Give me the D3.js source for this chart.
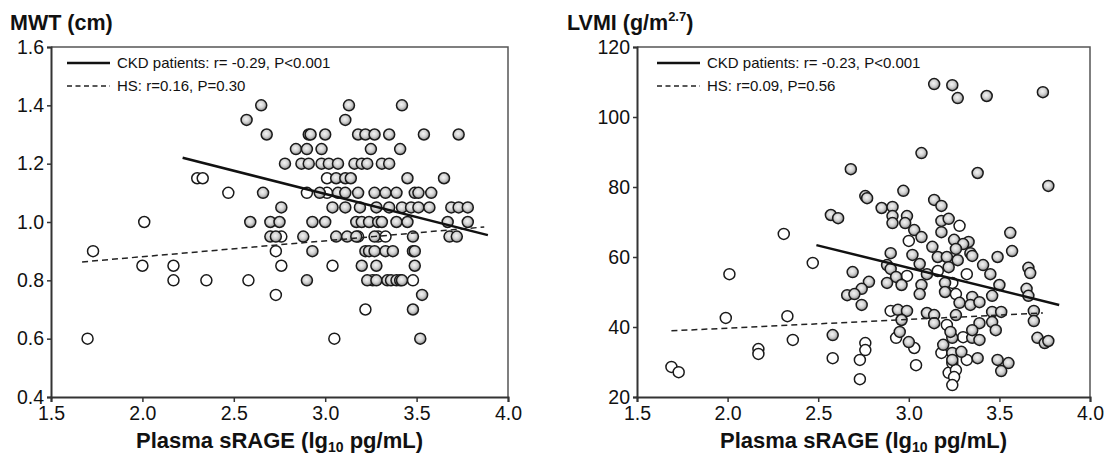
<!DOCTYPE html>
<html>
<head>
<meta charset="utf-8">
<script src="https://cdn.jsdelivr.net/npm/d3@7"></script>
<style>
body { margin: 0; background: #fff; }
svg { display: block; font-family: "Liberation Sans", Arial, sans-serif; }
</style>
</head>
<body>
<svg id="chart" width="1109" height="455"></svg>
<script>
// shared x axis (lg10 sRAGE)
const xTicks = [1.5, 2.0, 2.5, 3.0, 3.5, 4.0];
const mwtTicks = [0.4, 0.6, 0.8, 1.0, 1.2, 1.4, 1.6];
const lvmiTicks = [20, 40, 60, 80, 100, 120];

// MWT panel, CKD patients (grey dots)
const mwtCkdX = [
	2.65, 3.13, 3.42,
	2.57, 3.11,
	2.68, 2.91, 2.92, 3.00, 3.18, 3.22, 3.27, 3.35, 3.54, 3.73,
	2.84, 2.90, 2.98, 3.25, 3.41,
	2.78, 2.87, 2.91, 2.98, 3.02, 3.07, 3.16, 3.20, 3.23, 3.31, 3.35,
	3.06, 3.11, 3.14, 3.45, 3.65,
	2.66, 2.97, 3.07, 3.11, 3.18, 3.27, 3.33, 3.39, 3.49, 3.51, 3.58,
	2.76, 3.04, 3.11, 3.19, 3.28, 3.35, 3.42, 3.47, 3.51, 3.57, 3.69, 3.73, 3.78,
	2.59, 2.70, 2.75, 2.93, 3.00, 3.17, 3.20, 3.24, 3.29, 3.31, 3.39, 3.45, 3.67, 3.78,
	2.70, 2.73, 2.88, 3.06, 3.12, 3.17, 3.27, 3.48, 3.68, 3.72,
	2.93, 3.22, 3.24, 3.27, 3.33, 3.37, 3.48, 3.49,
	3.20, 3.28, 3.49,
	2.90, 3.23, 3.28, 3.34, 3.36, 3.39, 3.41, 3.42,
	3.53, 3.48, 3.52
];
const mwtCkdY = [
	1.40, 1.40, 1.40,
	1.35, 1.35,
	1.30, 1.30, 1.30, 1.30, 1.30, 1.30, 1.30, 1.30, 1.30, 1.30,
	1.25, 1.25, 1.25, 1.25, 1.25,
	1.20, 1.20, 1.20, 1.20, 1.20, 1.20, 1.20, 1.20, 1.20, 1.20, 1.20,
	1.15, 1.15, 1.15, 1.15, 1.15,
	1.10, 1.10, 1.10, 1.10, 1.10, 1.10, 1.10, 1.10, 1.10, 1.10, 1.10,
	1.05, 1.05, 1.05, 1.05, 1.05, 1.05, 1.05, 1.05, 1.05, 1.05, 1.05, 1.05, 1.05,
	1.00, 1.00, 1.00, 1.00, 1.00, 1.00, 1.00, 1.00, 1.00, 1.00, 1.00, 1.00, 1.00, 1.00,
	0.95, 0.95, 0.95, 0.95, 0.95, 0.95, 0.95, 0.95, 0.95, 0.95,
	0.90, 0.90, 0.90, 0.90, 0.90, 0.90, 0.90, 0.90,
	0.85, 0.85, 0.85,
	0.80, 0.80, 0.80, 0.80, 0.80, 0.80, 0.80, 0.80,
	0.75, 0.70, 0.60
];

// MWT panel, healthy subjects (open dots)
const mwtHsX = [1.70, 1.73, 2.00, 2.01, 2.17, 2.17, 2.30, 2.33, 2.35, 2.47, 2.58, 2.73, 2.73,
	2.76, 2.76, 2.90, 3.01, 3.01, 3.04, 3.05, 3.22, 3.26, 3.48, 3.29, 3.33, 3.18];
const mwtHsY = [0.60, 0.90, 0.85, 1.00, 0.85, 0.80, 1.15, 1.15, 0.80, 1.10, 0.80, 0.75, 0.90,
	0.85, 0.95, 1.10, 1.10, 1.15, 0.85, 0.60, 0.70, 0.80, 0.80, 0.95, 0.95, 0.95];

// regression lines (end points)
const mwtCkdFitX = [2.22, 3.89];
const mwtCkdFitY = [1.22, 0.955];
const mwtHsFitX = [1.67, 3.87];
const mwtHsFitY = [0.863, 0.983];

// LVMI panel, CKD patients
const lvmiCkdX = [
	3.14, 3.24, 3.27, 3.43, 3.74, 3.07,
	2.68, 3.38, 3.77, 2.76, 2.77, 2.97,
	3.14, 3.18, 2.85, 2.91, 2.91, 2.57,
	2.61, 2.99, 2.91, 2.98, 3.18, 3.22,
	3.03, 3.18, 3.56, 3.07, 3.25, 3.33,
	3.30, 3.13, 3.26, 3.34, 3.57, 2.90,
	3.02, 3.16, 3.21, 3.27, 3.35, 3.49,
	3.06, 2.88, 2.90, 3.22, 3.41, 3.66,
	3.67, 2.69, 2.93, 3.10, 3.45, 2.78,
	2.88, 2.96, 3.07, 3.20, 3.50, 3.65,
	2.74, 2.66, 2.70, 3.06, 3.20, 3.35,
	3.46, 2.74, 2.94, 2.99, 2.96, 3.10,
	3.14, 3.14, 3.26, 3.28, 3.34, 3.39,
	3.46, 3.51, 3.39, 3.46, 3.48, 3.69,
	3.69, 3.66, 2.95, 3.00, 3.19, 3.24,
	3.35, 3.39, 3.24, 3.29, 3.38, 3.24,
	3.49, 3.55, 3.51, 3.71, 3.75, 3.77,
	2.58, 3.23, 3.35
];
const lvmiCkdY = [
	109.4, 109.1, 105.4, 106.0, 107.1, 89.7,
	85.1, 84.0, 80.3, 77.4, 76.8, 78.9,
	76.3, 74.6, 74.0, 74.3, 71.7, 72.0,
	71.1, 71.7, 69.7, 69.7, 70.3, 70.9,
	67.7, 67.1, 66.9, 65.7, 64.9, 64.3,
	63.7, 62.9, 62.3, 61.1, 61.7, 61.1,
	60.6, 60.0, 60.0, 59.1, 60.3, 60.0,
	58.0, 57.7, 56.6, 57.1, 57.7, 56.9,
	55.4, 55.7, 54.3, 55.1, 55.1, 52.9,
	52.6, 52.0, 52.0, 52.6, 52.0, 50.9,
	50.9, 49.1, 49.4, 49.4, 50.0, 48.6,
	48.9, 46.3, 44.9, 44.6, 42.0, 44.0,
	43.4, 41.1, 43.4, 46.9, 46.3, 47.1,
	44.3, 44.3, 41.1, 41.4, 39.1, 44.6,
	41.7, 48.9, 38.6, 35.7, 34.9, 36.9,
	36.9, 36.3, 32.6, 32.9, 31.1, 30.6,
	30.6, 29.7, 27.4, 36.9, 35.4, 36.0,
	37.7, 38.6, 39.1
];

// LVMI panel, healthy subjects
const lvmiHsX = [1.69, 1.73, 1.99, 2.17, 2.17, 2.33, 2.36, 2.01, 2.31, 2.47, 2.58, 2.76,
	2.76, 2.73, 2.73, 3.04, 3.22, 2.90, 2.93, 3.03, 3.21, 3.30, 3.18, 3.32, 3.24, 3.26,
	3.25, 3.24, 3.28, 3.00, 2.99, 3.16, 3.32, 3.24, 3.26];
const lvmiHsY = [28.6, 27.1, 42.6, 33.7, 32.3, 43.1, 36.3, 55.1, 66.6, 58.3, 31.1, 35.4,
	33.4, 30.6, 25.1, 29.1, 26.9, 44.6, 36.9, 34.0, 40.6, 37.1, 32.6, 30.6, 29.7, 27.7,
	25.7, 23.4, 68.9, 64.6, 54.6, 56.0, 55.1, 52.6, 49.4];

const lvmiCkdFitX = [2.49, 3.83];
const lvmiCkdFitY = [63.4, 46.3];
const lvmiHsFitX = [1.69, 3.74];
const lvmiHsFitY = [38.9, 44.0];

const svg = d3.select("#chart");

const grad = svg.append("defs")
.append("radialGradient")
.attr("id", "dotFill")
.attr("cx", "45%")
.attr("cy", "42%")
.attr("r", "55%");

grad.append("stop").attr("offset", "0%").attr("stop-color", "#f4f4f4");
grad.append("stop").attr("offset", "55%").attr("stop-color", "#d2d2d2");
grad.append("stop").attr("offset", "100%").attr("stop-color", "#8c8c8c");

const plotTop = 47;
const plotBottom = 397;

function zipXY(xs, ys) {
	return xs.map((x, i) => ({x, y: ys[i]}));
}

function drawPanel(p) {
	const g = svg.append("g");

	const x = d3.scaleLinear().domain([1.5, 4.0]).range([p.left, p.right]);
	const y = d3.scaleLinear().domain(p.yDomain).range([plotBottom, plotTop]);

	// frame: top and right sides
	g.append("path")
	.attr("d", `M${p.left},${plotTop}H${p.right}V${plotBottom}`)
	.attr("fill", "none")
	.attr("stroke", "#555")
	.attr("stroke-width", 1.5);

	const xAxis = g.append("g")
	.attr("transform", `translate(0,${plotBottom})`)
	.call(d3.axisBottom(x).tickValues(xTicks).tickFormat(d3.format(".1f")).tickSize(5).tickPadding(4));

	const yAxis = g.append("g")
	.attr("transform", `translate(${p.left},0)`)
	.call(d3.axisLeft(y).tickValues(p.yTicks).tickFormat(p.yFormat).tickSize(4).tickPadding(3));

	[xAxis, yAxis].forEach((a) => {
		a.select(".domain").attr("stroke", "#333").attr("stroke-width", 2);
		a.selectAll(".tick line").attr("stroke", "#333").attr("stroke-width", 1.5);
		a.selectAll(".tick text")
		.attr("fill", "#111")
		.style("font-size", "19.5px")
		.style("font-family", "'Liberation Sans', Arial, sans-serif");
	});

	// open circles (HS) first, grey CKD dots on top
	g.append("g")
	.selectAll("circle")
	.data(zipXY(p.hsX, p.hsY))
	.join("circle")
	.attr("cx", (d) => x(d.x))
	.attr("cy", (d) => y(d.y))
	.attr("r", 5.5)
	.attr("fill", "#fff")
	.attr("stroke", "#1a1a1a")
	.attr("stroke-width", 1.5);

	g.append("g")
	.selectAll("circle")
	.data(zipXY(p.ckdX, p.ckdY))
	.join("circle")
	.attr("cx", (d) => x(d.x))
	.attr("cy", (d) => y(d.y))
	.attr("r", 5.5)
	.attr("fill", "url(#dotFill)")
	.attr("stroke", "#1a1a1a")
	.attr("stroke-width", 1.5);

	const line = d3.line().x((d) => x(d.x)).y((d) => y(d.y));

	g.append("path")
	.datum(zipXY(p.hsFitX, p.hsFitY))
	.attr("d", line)
	.attr("fill", "none")
	.attr("stroke", "#222")
	.attr("stroke-width", 1.5)
	.attr("stroke-dasharray", "6,4");

	g.append("path")
	.datum(zipXY(p.ckdFitX, p.ckdFitY))
	.attr("d", line)
	.attr("fill", "none")
	.attr("stroke", "#111")
	.attr("stroke-width", 2.5);

	// legend
	const lg = g.append("g").attr("transform", `translate(${p.left + p.legendOffset},0)`);

	lg.append("line")
	.attr("x1", 0).attr("x2", 43).attr("y1", 63).attr("y2", 63)
	.attr("stroke", "#111").attr("stroke-width", 2.5);

	lg.append("line")
	.attr("x1", 0).attr("x2", 43).attr("y1", 86).attr("y2", 86)
	.attr("stroke", "#222").attr("stroke-width", 1.3)
	.attr("stroke-dasharray", "5,3.5");

	lg.selectAll("text")
	.data(p.legend)
	.join("text")
	.attr("x", 50)
	.attr("y", (d, i) => 68 + i * 23)
	.attr("fill", "#111")
	.style("font-size", "15px")
	.text((d) => d);

	// panel title
	const title = g.append("text")
	.attr("x", p.titleX)
	.attr("y", 30)
	.attr("fill", "#111")
	.style("font-size", "21.5px")
	.style("font-weight", "bold")
	.text(p.title);

	if (p.titleSup) {
		title.append("tspan")
		.attr("dy", -9)
		.style("font-size", "13px")
		.text(p.titleSup);
		title.append("tspan")
		.attr("dy", 9)
		.text(")");
	}

	// x axis title
	const xt = g.append("text")
	.attr("x", (p.left + p.right) / 2)
	.attr("y", 448)
	.attr("text-anchor", "middle")
	.attr("fill", "#111")
	.style("font-size", "22px")
	.style("font-weight", "bold")
	.text("Plasma sRAGE (lg");

	xt.append("tspan").attr("dy", 4).style("font-size", "14px").text("10");
	xt.append("tspan").attr("dy", -4).text(" pg/mL)");
}

drawPanel({
	left: 51,
	right: 508,
	yDomain: [0.4, 1.6],
	yTicks: mwtTicks,
	yFormat: d3.format(".1f"),
	ckdX: mwtCkdX,
	ckdY: mwtCkdY,
	hsX: mwtHsX,
	hsY: mwtHsY,
	ckdFitX: mwtCkdFitX,
	ckdFitY: mwtCkdFitY,
	hsFitX: mwtHsFitX,
	hsFitY: mwtHsFitY,
	legend: ["CKD patients: r= -0.29, P<0.001", "HS: r=0.16, P=0.30"],
	legendOffset: 16,
	title: "MWT (cm)",
	titleX: 10
});

drawPanel({
	left: 637,
	right: 1090,
	yDomain: [20, 120],
	yTicks: lvmiTicks,
	yFormat: d3.format("d"),
	ckdX: lvmiCkdX,
	ckdY: lvmiCkdY,
	hsX: lvmiHsX,
	hsY: lvmiHsY,
	ckdFitX: lvmiCkdFitX,
	ckdFitY: lvmiCkdFitY,
	hsFitX: lvmiHsFitX,
	hsFitY: lvmiHsFitY,
	legend: ["CKD patients: r= -0.23, P<0.001", "HS: r=0.09, P=0.56"],
	legendOffset: 20,
	title: "LVMI (g/m",
	titleSup: "2.7",
	titleX: 567
});
</script>
</body>
</html>
